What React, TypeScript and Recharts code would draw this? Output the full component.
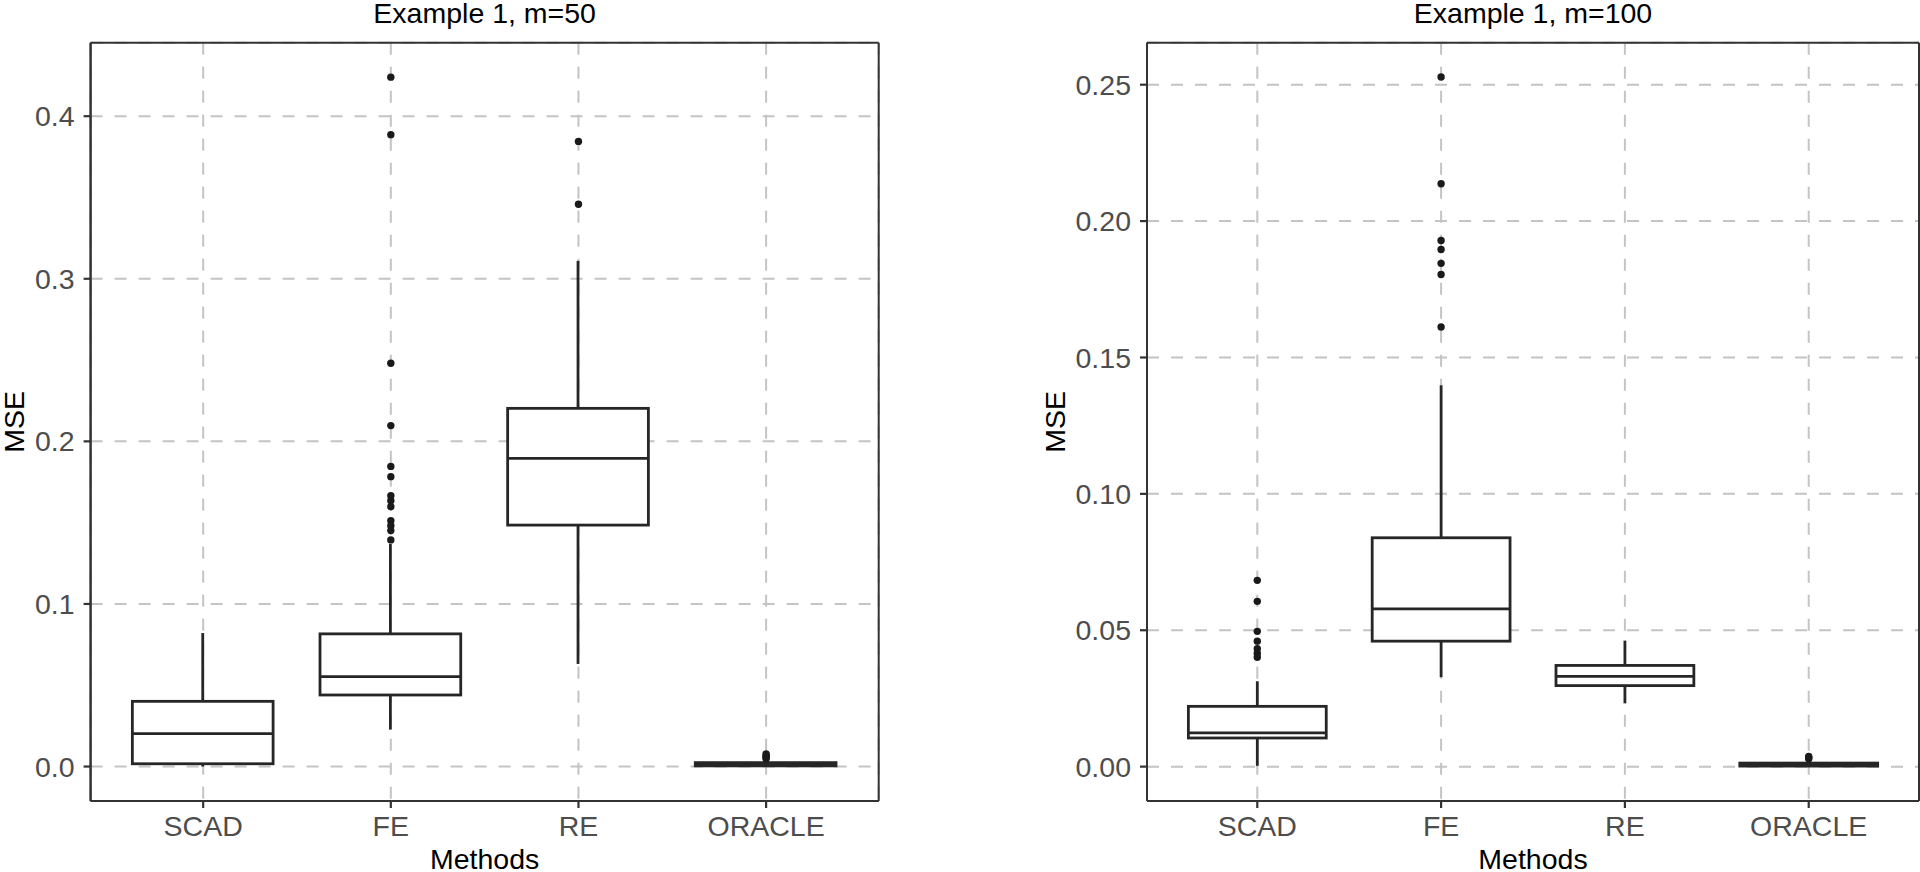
import React from 'react';
import { ComposedChart, Bar, Scatter, XAxis, YAxis, CartesianGrid } from 'recharts';

const methods = ['SCAD', 'FE', 'RE', 'ORACLE'];

// Example 1, m=50  (whisker low, Q1, median, Q3, whisker high) per method
const m50Low = [0, 0.0227, 0.0631, 0];
const m50Q1 = [0.0017, 0.044, 0.1485, 0.0004];
const m50Median = [0.0203, 0.0553, 0.1895, 0.0012];
const m50Q3 = [0.0401, 0.0816, 0.2203, 0.0024];
const m50High = [0.0821, 0.1369, 0.311, 0.0045];
const m50OutliersSCAD: number[] = [];
const m50OutliersFE = [0.424, 0.3886, 0.248, 0.2097, 0.1846, 0.1783, 0.1666, 0.1635, 0.1598, 0.1512, 0.1481, 0.1451, 0.1394];
const m50OutliersRE = [0.3845, 0.3458];
const m50OutliersORACLE = [0.0048, 0.0055, 0.0062, 0.007, 0.0078];
const m50Ticks = [0, 0.1, 0.2, 0.3, 0.4];
const m50Domain: [number, number] = [-0.0212, 0.4452];

// Example 1, m=100
const m100Low = [0.0003, 0.0328, 0.0232, 0];
const m100Q1 = [0.0105, 0.046, 0.0297, 0.0002];
const m100Median = [0.0124, 0.0578, 0.0331, 0.0006];
const m100Q3 = [0.0221, 0.0839, 0.0371, 0.0013];
const m100High = [0.0313, 0.1398, 0.0462, 0.0026];
const m100OutliersSCAD = [0.0683, 0.0606, 0.0496, 0.046, 0.0432, 0.0415, 0.0401];
const m100OutliersFE = [0.2528, 0.2137, 0.1929, 0.1896, 0.1845, 0.1804, 0.1612];
const m100OutliersRE: number[] = [];
const m100OutliersORACLE = [0.0029, 0.0033, 0.0037];
const m100Ticks = [0, 0.05, 0.1, 0.15, 0.2, 0.25];
const m100Domain: [number, number] = [-0.0126, 0.2654];

const buildBoxes = (lo: number[], q1: number[], med: number[], q3: number[], hi: number[]) =>
  methods.map((m, i) => ({ method: m, lo: lo[i], q1: q1[i], med: med[i], q3: q3[i], hi: hi[i] }));

const buildOutliers = (groups: number[][]) =>
  groups.flatMap((g, i) => g.map((v) => ({ method: methods[i], value: v })));

const FONT = "'Liberation Sans', Arial, Helvetica, sans-serif";
const INK = '#262626';
const BORDER = '#333333';

const BoxShape = (props: any) => {
  const { x, y, width, height, payload } = props;
  if (!payload || x == null || y == null) return null;
  const top = Math.min(y, y + height);
  const h = Math.abs(height);
  const span = payload.hi - payload.lo;
  const py = (v: number) => top + ((payload.hi - v) / span) * h;
  const cx = x + width / 2;
  const yq3 = py(payload.q3);
  const yq1 = py(payload.q1);
  const ymed = py(payload.med);
  return (
    <g>
      <line x1={cx} x2={cx} y1={top} y2={yq3} stroke={INK} strokeWidth={2.8} />
      <line x1={cx} x2={cx} y1={yq1} y2={top + h} stroke={INK} strokeWidth={2.8} />
      <rect x={x} y={yq3} width={width} height={Math.max(yq1 - yq3, 0.01)} fill="#ffffff" stroke={INK} strokeWidth={2.8} />
      <line x1={x} x2={x + width} y1={ymed} y2={ymed} stroke={INK} strokeWidth={2.8} />
    </g>
  );
};

const OutlierDot = (props: any) => {
  const { cx, cy } = props;
  if (cx == null || cy == null) return null;
  return <circle cx={cx} cy={cy} r={3.7} fill="#1a1a1a" />;
};

const MseLabel = (props: any) => {
  const vb = props.viewBox || {};
  const cy = vb.y != null && vb.height != null ? vb.y + vb.height / 2 : 421.85;
  const bx = props.baseX;
  return (
    <text x={bx} y={cy} transform={`rotate(-90 ${bx} ${cy})`} textAnchor="middle" fill="#000" fontSize={28.5} fontFamily={FONT}>
      MSE
    </text>
  );
};

const borderVertical = (p: any) => {
  const o = p && p.offset ? p.offset : null;
  return o ? [o.left, o.left + o.width] : [];
};
const borderHorizontal = (p: any) => {
  const o = p && p.offset ? p.offset : null;
  return o ? [o.top, o.top + o.height] : [];
};

type PanelProps = {
  title: string;
  boxes: any[];
  outliers: any[];
  domain: [number, number];
  ticks: number[];
  digits: number;
  left: number;
  marginRight: number;
  yAxisWidth: number;
  mseX: number;
};

const Panel = ({ title, boxes, outliers, domain, ticks, digits, left, marginRight, yAxisWidth, mseX }: PanelProps) => {
  const plotW = 960 - yAxisWidth - marginRight;
  const band = plotW / 4.2;
  const pad = band * 0.1;
  const barSize = band * 0.75;
  return (
    <div style={{ position: 'absolute', left, top: 0, width: 960, height: 872, fontFamily: FONT }}>
      <div
        style={{
          position: 'absolute',
          left: yAxisWidth,
          top: 0,
          width: plotW,
          textAlign: 'center',
          fontSize: 28.5,
          lineHeight: '26px',
          color: '#000',
          fontFamily: FONT,
          whiteSpace: 'nowrap',
        }}
      >
        {title}
      </div>
      <ComposedChart width={960} height={872} data={boxes} margin={{ top: 42.7, right: marginRight, bottom: 1, left: 0 }}>
        <CartesianGrid stroke="#c4c4c4" strokeWidth={2} strokeDasharray="12 12" />
        <XAxis
          dataKey="method"
          type="category"
          allowDuplicatedCategory={false}
          padding={{ left: pad, right: pad }}
          height={70}
          interval={0}
          tickSize={7}
          tickMargin={7.5}
          tick={{ fill: '#4d4d4d', fontSize: 28.5, fontFamily: FONT }}
          tickLine={{ stroke: BORDER, strokeWidth: 2.2 }}
          axisLine={{ stroke: BORDER, strokeWidth: 2 }}
          label={{ value: 'Methods', position: 'insideBottom', offset: 2, fill: '#000', fontSize: 28.5, fontFamily: FONT }}
        />
        <YAxis
          type="number"
          domain={domain}
          ticks={ticks}
          allowDataOverflow
          interval={0}
          width={yAxisWidth}
          tickSize={7}
          tickMargin={9}
          tickFormatter={(v: number) => v.toFixed(digits)}
          tick={{ fill: '#4d4d4d', fontSize: 28.5, fontFamily: FONT }}
          tickLine={{ stroke: BORDER, strokeWidth: 2.2 }}
          axisLine={{ stroke: BORDER, strokeWidth: 2 }}
          label={<MseLabel baseX={mseX} />}
        />
        <Bar dataKey={(d: any) => [d.lo, d.hi]} barSize={barSize} shape={BoxShape} isAnimationActive={false} />
        <Scatter data={outliers} dataKey="value" shape={OutlierDot} isAnimationActive={false} />
        <CartesianGrid
          stroke={BORDER}
          strokeWidth={2}
          verticalCoordinatesGenerator={borderVertical}
          horizontalCoordinatesGenerator={borderHorizontal}
        />
      </ComposedChart>
    </div>
  );
};

export default function App() {
  const boxes50 = buildBoxes(m50Low, m50Q1, m50Median, m50Q3, m50High);
  const out50 = buildOutliers([m50OutliersSCAD, m50OutliersFE, m50OutliersRE, m50OutliersORACLE]);
  const boxes100 = buildBoxes(m100Low, m100Q1, m100Median, m100Q3, m100High);
  const out100 = buildOutliers([m100OutliersSCAD, m100OutliersFE, m100OutliersRE, m100OutliersORACLE]);
  return (
    <div style={{ position: 'absolute', left: 0, top: 0, width: 1920, height: 872, background: '#fff', overflow: 'hidden' }}>
      <Panel
        title="Example 1, m=50"
        boxes={boxes50}
        outliers={out50}
        domain={m50Domain}
        ticks={m50Ticks}
        digits={1}
        left={0}
        marginRight={81.3}
        yAxisWidth={90.6}
        mseX={24.5}
      />
      <Panel
        title="Example 1, m=100"
        boxes={boxes100}
        outliers={out100}
        domain={m100Domain}
        ticks={m100Ticks}
        digits={2}
        left={960}
        marginRight={1}
        yAxisWidth={187}
        mseX={105.3}
      />
    </div>
  );
}
